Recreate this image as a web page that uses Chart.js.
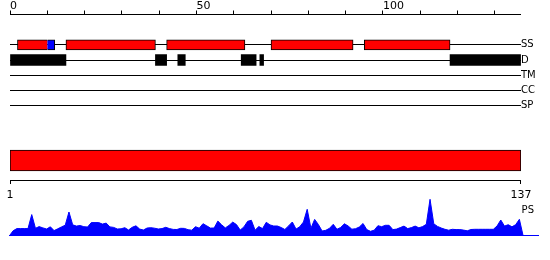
<!DOCTYPE html>
<html><head><meta charset="utf-8">
<script src="https://cdn.jsdelivr.net/npm/chart.js@4.4.1/dist/chart.umd.min.js"></script>
<style>
html,body{margin:0;padding:0;background:#fff;}
#wrap{position:relative;width:550px;height:260px;overflow:hidden;}
#wrap canvas{position:absolute;left:0;top:0;}
</style></head><body>
<div id="wrap">
<canvas id="tracks" width="550" height="260"></canvas>
<canvas id="domain" width="550" height="260"></canvas>
<canvas id="ps" width="550" height="260"></canvas>
</div>
<script>
// ---- data ----
const seqLength = 137;
const trackNames = ['SS', 'D', 'TM', 'CC', 'SP'];
const axisTickLabels = [0, 50, 100];
const ssHelix = [[2, 10], [15, 39], [42, 63], [70, 92], [95, 118]];
const ssStrand = [[10, 12]];
const disorder = [[0, 15], [39, 42], [45, 47], [62, 66], [67, 68], [118, 137]];
const domainRange = [1, 137];
const rangeTickLabels = [1, 137];
const psLabel = 'PS';
// PS profile, positions 0..138
const psValues = [0,
  5.0, 7.2, 7.2, 7.2, 7.2, 21.2, 7.5, 9.2, 7.9, 6.8,
  9.0, 5.2, 7.0, 8.9, 10.6, 23.8, 11.0, 9.7, 10.3, 9.1,
  8.8, 13.2, 13.2, 13.2, 11.7, 12.7, 8.9, 8.4, 6.8, 7.0,
  8.1, 5.8, 8.5, 10.0, 6.7, 5.8, 7.8, 8.1, 7.6, 6.8,
  7.2, 8.5, 7.2, 6.4, 6.3, 7.5, 7.4, 6.1, 5.6, 9.1,
  7.6, 12.1, 10.0, 7.7, 7.8, 14.7, 11.0, 7.9, 10.4, 13.7,
  11.2, 5.7, 8.9, 14.5, 15.5, 5.6, 9.3, 7.2, 13.5, 10.9,
  9.8, 9.8, 8.3, 6.3, 9.9, 13.8, 6.7, 9.1, 13.8, 26.5,
  7.5, 16.4, 11.3, 4.8, 5.5, 7.5, 11.5, 6.5, 8.4, 12.0,
  9.8, 6.6, 7.1, 8.8, 12.3, 6.2, 4.5, 5.6, 10.1, 9.1,
  10.5, 10.5, 6.2, 6.7, 8.2, 9.7, 7.2, 8.2, 9.7, 8.0,
  9.2, 11.5, 36.5, 12.0, 9.4, 7.8, 6.5, 5.6, 6.5, 6.2,
  6.2, 5.7, 5.0, 6.3, 6.5, 6.5, 6.5, 6.5, 6.5, 6.5,
  9.8, 15.8, 9.7, 11.1, 9.0, 11.1, 16.5,
  0];
const psScaleMax = 40;
const psAxisMax = 142;
const psLabelAt = 25;

// ---- charts ----
Chart.defaults.font.family = "'DejaVu Sans', sans-serif";
Chart.defaults.color = '#000';
const common = {
  responsive: false, animation: false, devicePixelRatio: 1,
  plugins: { legend: { display: false }, tooltip: { enabled: false } }
};

new Chart(document.getElementById('tracks'), {
  type: 'bar',
  data: { datasets: [
    { label: 'SS helix', data: ssHelix.map(r => ({ x: r, y: 0 })),
      backgroundColor: '#ff0000', borderColor: '#000', borderWidth: 1,
      borderSkipped: ctx => (ctx.raw && ssStrand.some(s => s[0] === ctx.raw.x[1])) ? 'right' : false,
      barThickness: 10, grouped: false },
    { label: 'SS strand', data: ssStrand.map(r => ({ x: r, y: 0 })),
      backgroundColor: '#0000ff', borderColor: '#000', borderWidth: 1,
      borderSkipped: ctx => (ctx.raw && ssHelix.some(h => h[1] === ctx.raw.x[0])) ? 'left' : false,
      barThickness: 10, grouped: false },
    { label: 'D', data: disorder.map(r => ({ x: r, y: 1 })),
      backgroundColor: '#000', borderWidth: 0, barThickness: 11, grouped: false }
  ]},
  options: Object.assign({}, common, {
    indexAxis: 'y',
    layout: { padding: { left: 10, right: 0, top: 0, bottom: 154.5 } },
    scales: {
      x: { type: 'linear', position: 'top', min: 0, max: seqLength,
        afterFit: s => { s.height = 14.5; },
        grid: { drawOnChartArea: false, tickLength: 4, color: '#000', lineWidth: 1 },
        border: { color: '#000', width: 1 },
        ticks: { stepSize: 10, autoSkip: false, includeBounds: false, maxRotation: 0,
          align: 'start', padding: -1, font: { size: 11, lineHeight: 1 }, color: '#000',
          callback: v => axisTickLabels.includes(v) ? String(v) : '' } },
      y: { type: 'linear', position: 'right', reverse: true, offset: false,
        min: -2, max: trackNames.length - 1,
        afterBuildTicks: s => { s.ticks = trackNames.map((_, i) => ({ value: i })); },
        afterFit: s => { s.width = 29.1; },
        grid: { color: '#000', lineWidth: 1, drawTicks: false, offset: false },
        border: { display: false },
        ticks: { padding: 0, font: { size: 10 }, color: '#000',
          callback: v => trackNames[v] ?? '' } }
    }
  })
});

new Chart(document.getElementById('domain'), {
  type: 'bar',
  data: { labels: [''], datasets: [{ data: [domainRange],
    backgroundColor: '#ff0000', borderColor: '#000', borderWidth: 1,
    borderSkipped: false, barThickness: 21 }] },
  options: Object.assign({}, common, {
    indexAxis: 'y',
    layout: { padding: { left: 10, right: 29.1, top: 141, bottom: 0 } },
    scales: {
      x: { type: 'linear', position: 'bottom', min: domainRange[0], max: domainRange[1],
        afterFit: s => { s.height = 80; },
        afterBuildTicks: s => { s.ticks = rangeTickLabels.map(v => ({ value: v })); },
        grid: { drawOnChartArea: false, tickLength: 4, color: '#000' },
        border: { color: '#000', width: 1 },
        ticks: { padding: 5, font: { size: 11 }, color: '#000', autoSkip: false, maxRotation: 0 } },
      y: { display: false }
    }
  })
});

new Chart(document.getElementById('ps'), {
  type: 'line',
  data: { datasets: [{ data: psValues.map((v, i) => ({ x: i, y: v })),
    borderColor: '#0000ff', backgroundColor: '#0000ff', borderWidth: 1,
    fill: 'origin', pointRadius: 0, tension: 0 }] },
  options: Object.assign({}, common, {
    layout: { padding: { left: 9.4, right: 12, top: 195.8, bottom: 24.2 } },
    scales: {
      x: { type: 'linear', min: 0, max: psAxisMax,
        afterFit: s => { s.height = 0; },
        ticks: { display: false }, grid: { display: false },
        border: { color: '#0000ff', width: 1 } },
      y: { type: 'linear', position: 'right', min: 0, max: psScaleMax,
        afterFit: s => { s.width = 0; },
        afterBuildTicks: s => { s.ticks = [{ value: psLabelAt }]; },
        grid: { display: false }, border: { display: false },
        ticks: { mirror: true, padding: -4, font: { size: 10 }, color: '#000',
          callback: () => psLabel } }
    }
  })
});
</script>
</body></html>
